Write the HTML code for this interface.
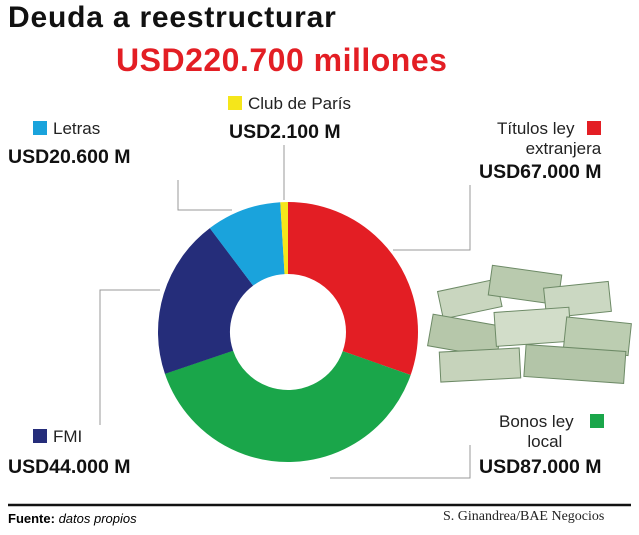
<!DOCTYPE html><html><head><style>
body{margin:0;width:639px;height:535px;background:#fff;font-family:"Liberation Sans",sans-serif;position:relative;overflow:hidden}
.t{position:absolute;white-space:nowrap}
.b{font-weight:bold;font-size:19.5px;color:#111}
.l{font-size:17px;color:#222}
.sq{display:inline-block;width:14px;height:14px;vertical-align:-1px;margin-right:6px}
</style></head><body>
<div class="t" style="left:8px;top:1px;font-size:30px;letter-spacing:0.8px;font-weight:bold;color:#111">Deuda a reestructurar</div>
<div class="t" style="left:116px;top:42px;font-size:32px;letter-spacing:0.5px;font-weight:bold;color:#e31e24">USD220.700 millones</div>
<svg width="639" height="535" style="position:absolute;left:0;top:0">
<g fill="none" stroke="#999" stroke-width="1">
<polyline points="178,180 178,210 232,210"/>
<line x1="284" y1="145" x2="284" y2="200"/>
<polyline points="393,250 470,250 470,185"/>
<polyline points="160,290 100,290 100,425"/>
<polyline points="330,478 470,478 470,445"/>
</g>
<g transform="translate(288,332)" fill="none" stroke-width="72">
<circle r="94" stroke="#e31e24" stroke-dasharray="179.3 600" transform="rotate(-90)"/>
<circle r="94" stroke="#1aa64a" stroke-dasharray="232.8 600" transform="rotate(19.3)"/>
<circle r="94" stroke="#252d7a" stroke-dasharray="117.8 600" transform="rotate(161.2)"/>
<circle r="94" stroke="#1aa3dc" stroke-dasharray="55.1 600" transform="rotate(233)"/>
<circle r="94" stroke="#f5e61a" stroke-dasharray="5.6 600" transform="rotate(266.6)"/>
</g>
<g stroke="#6d8a66" stroke-width="1">
<rect x="440" y="285" width="60" height="28" fill="#c9d6bf" transform="rotate(-12 470 300)"/>
<rect x="490" y="270" width="70" height="30" fill="#b9caae" transform="rotate(8 525 285)"/>
<rect x="545" y="285" width="65" height="30" fill="#cbd8c2" transform="rotate(-6 575 300)"/>
<rect x="430" y="320" width="70" height="32" fill="#b6c7aa" transform="rotate(10 465 335)"/>
<rect x="495" y="310" width="75" height="34" fill="#d2ddc9" transform="rotate(-4 530 325)"/>
<rect x="565" y="320" width="65" height="32" fill="#bccdb1" transform="rotate(6 595 335)"/>
<rect x="440" y="350" width="80" height="30" fill="#c6d3bb" transform="rotate(-3 480 365)"/>
<rect x="525" y="348" width="100" height="32" fill="#b3c5a8" transform="rotate(4 575 362)"/>
</g>
<line x1="8" y1="505" x2="631" y2="505" stroke="#111" stroke-width="2.5"/>
</svg>
<div class="t l" style="left:33px;top:119px"><span class="sq" style="background:#1aa3dc"></span>Letras</div>
<div class="t b" style="left:8px;top:146px">USD20.600 M</div>
<div class="t l" style="left:228px;top:94px"><span class="sq" style="background:#f5e61a"></span>Club de París</div>
<div class="t b" style="left:229px;top:121px">USD2.100 M</div>
<div class="t l" style="left:497px;top:119px;text-align:right;line-height:20px">Títulos ley <span class="sq" style="background:#e31e24;margin:0 0 0 8px"></span><br>extranjera</div>
<div class="t b" style="left:479px;top:161px">USD67.000 M</div>
<div class="t l" style="left:33px;top:427px"><span class="sq" style="background:#252d7a"></span>FMI</div>
<div class="t b" style="left:8px;top:456px">USD44.000 M</div>
<div class="t l" style="left:499px;top:412px;line-height:20px">Bonos ley <span class="sq" style="background:#1aa64a;margin:0 0 0 12px"></span><br>&nbsp;&nbsp;&nbsp;&nbsp;&nbsp;&nbsp;local</div>
<div class="t b" style="left:479px;top:456px">USD87.000 M</div>
<div class="t" style="left:8px;top:511px;font-size:13px"><b>Fuente:</b> <i>datos propios</i></div>
<div class="t" style="left:443px;top:509px;font-size:14px;font-family:'Liberation Serif',serif;color:#222">S. Ginandrea/BAE Negocios</div>
</body></html>
